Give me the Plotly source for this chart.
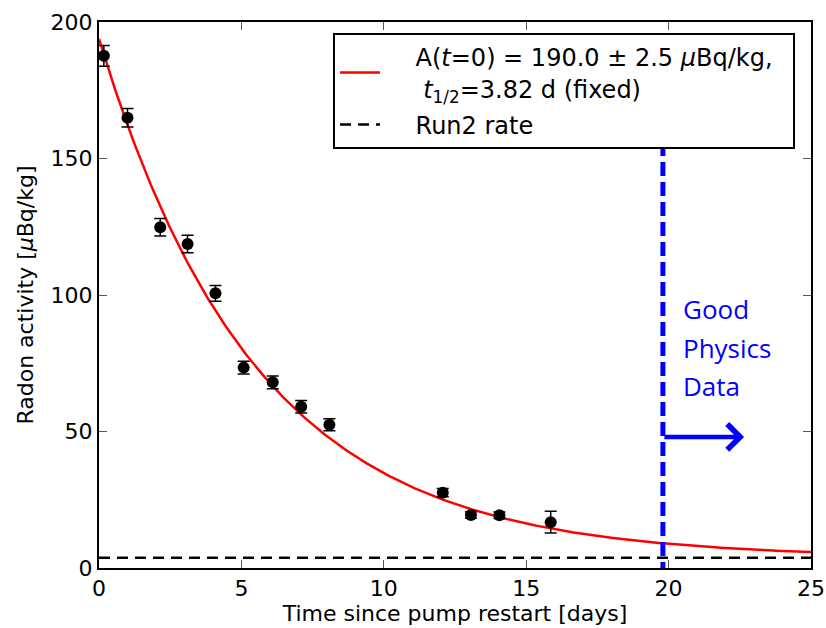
import numpy as np
import plotly.graph_objects as go

# ---- data ----
days = [0.17, 1.0, 2.15, 3.11, 4.09, 5.08, 6.10, 7.10, 8.09, 12.07, 13.06, 14.06, 15.86]
activity = [187.6, 164.9, 124.8, 118.7, 100.6, 73.4, 68.0, 59.1, 52.5, 27.6, 19.4, 19.3, 16.8]
activity_err = [3.8, 3.4, 3.2, 3.2, 2.9, 2.3, 2.3, 2.3, 2.2, 1.5, 1.2, 1.2, 4.0]

# fit parameters (as quoted in the legend) and Run2 rate
A0 = 190.0
T_HALF = 3.82
RUN2_RATE = 3.8
fit_t = np.linspace(0, 25, 400)
fit_a = A0 * np.exp(-np.log(2) * fit_t / T_HALF) + RUN2_RATE

# "good physics data" marker
GOOD_X = [19.8, 19.8]
GOOD_Y = [156, 0]
ARROW_TAIL = (19.8, 48)
ARROW_TIP = (22.65, 48)
GOOD_TEXT = ["Good", "Physics", "Data"]
GOOD_TEXT_Y = [94.8, 80.6, 66.7]
GOOD_TEXT_X = 20.42

X_TICKS = [0, 5, 10, 15, 20, 25]
Y_TICKS = [0, 50, 100, 150, 200]

FONT = "DejaVu Sans"
NB = "\u00a0"

fig = go.Figure()

fig.add_trace(go.Scatter(
    x=fit_t, y=fit_a, mode="lines",
    line=dict(color="red", width=2.5),
    name=NB * 4 + "A(<i>t</i>=0) = 190.0 ± 2.5 <i>μ</i>Bq/kg," + NB * 2
         + "<br>" + NB * 5 + "<i>t</i><sub>1/2</sub>=3.82 d (fixed)",
    legendgroup="a",
))
fig.add_trace(go.Scatter(
    x=[0, 25], y=[RUN2_RATE, RUN2_RATE], mode="lines",
    line=dict(color="black", width=2.5, dash="11px,7px"),
    name=NB * 4 + "Run2 rate", legendgroup="b",
))
fig.add_trace(go.Scatter(
    x=GOOD_X, y=GOOD_Y, mode="lines",
    line=dict(color="#0000ff", width=5, dash="14px,6px"),
    showlegend=False,
))
fig.add_trace(go.Scatter(
    x=days, y=activity, mode="markers",
    marker=dict(color="black", size=12),
    error_y=dict(type="data", array=activity_err, color="black", thickness=1.5, width=6),
    showlegend=False,
))

fig.add_annotation(
    x=ARROW_TIP[0], y=ARROW_TIP[1], ax=ARROW_TAIL[0], ay=ARROW_TAIL[1],
    xref="x", yref="y", axref="x", ayref="y",
    text="", showarrow=True, arrowhead=4, arrowsize=1.1, arrowwidth=4.5,
    arrowcolor="#0000ff",
)
for txt, ty in zip(GOOD_TEXT, GOOD_TEXT_Y):
    fig.add_annotation(
        x=GOOD_TEXT_X, y=ty, xref="x", yref="y", text=txt, showarrow=False,
        xanchor="left", yanchor="middle",
        font=dict(family="Open Sans", size=26, color="#0000ff"),
    )

axis_common = dict(
    showgrid=False, zeroline=False, showline=True, linewidth=2, linecolor="black",
    mirror="ticks", ticks="inside", ticklen=8, tickwidth=1, tickcolor="#555555",
    tickfont=dict(family=FONT, size=22, color="black"), automargin=False,
)

fig.update_layout(
    width=826, height=628,
    margin=dict(l=99, r=15, t=22, b=60, autoexpand=False),
    paper_bgcolor="white", plot_bgcolor="white",
    xaxis=dict(range=[0, 25], tickvals=X_TICKS,
               title=dict(text="Time since pump restart [days]", font=dict(family=FONT, size=22, color="black"), standoff=2),
               **axis_common),
    yaxis=dict(range=[0, 200], tickvals=Y_TICKS,
               title=dict(text="Radon activity [<i>μ</i>Bq/kg]", font=dict(family=FONT, size=22, color="black"), standoff=11),
               **axis_common),
    legend=dict(x=0.3287, y=0.98, xanchor="left", yanchor="top",
                bgcolor="white", bordercolor="black", borderwidth=2,
                font=dict(family=FONT, size=24, color="black"),
                tracegroupgap=2, itemwidth=40),
    showlegend=True,
)

fig.write_html("out.html")
